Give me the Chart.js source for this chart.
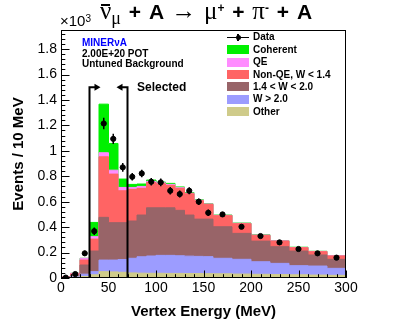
<!DOCTYPE html>
<html>
<head>
    <script src="https://cdn.jsdelivr.net/npm/chart.js"></script>
    <style>
        body {
            margin: 0;
            background: #fff;
            font-family: "Liberation Sans", Arial, sans-serif;
        }
        #wrap {
            position: relative;
            width: 407px;
            height: 328px;
        }
        canvas { position: absolute; left: 0; top: 0; }
        .txt {
            position: absolute;
            white-space: nowrap;
            font-weight: bold;
            font-size: 10px;
            line-height: 12px;
            color: #000;
        }
        #title {
            position: absolute;
            left: 100px;
            top: 0px;
            font-size: 21px;
            line-height: 22px;
            font-weight: bold;
            white-space: nowrap;
            word-spacing: 2px;
        }
        #title .g { font-family: "Liberation Serif", serif; font-weight: normal; font-size: 25px; }
        #title .nubar { position: relative; }
        #title .bar { position: absolute; left: 1px; right: 1px; top: 7px; height: 1.6px; background: #000; }
        #title .sub { font-family: "Liberation Serif", serif; font-weight: normal; font-size: 18px; position: relative; top: 5px; }
        #title .sup { font-size: 12px; position: relative; top: -7px; }
        #exp {
            position: absolute;
            left: 60px;
            top: 13px;
            font-size: 15px;
            line-height: 16px;
            white-space: nowrap;
        }
        #exp sup { font-size: 10px; position: relative; top: -2px; vertical-align: top; }
        .box { position: absolute; width: 22px; height: 9px; }
    </style>
</head>
<body>
<div id="wrap">
    <canvas id="chart" width="407" height="328"></canvas>
    <div id="title"><span class="g nubar">ν<span class="bar"></span></span><span class="sub">μ</span> + A <span class="g">→</span> <span class="g">μ</span><span class="sup">+</span> + <span class="g">π</span><span class="sup">-</span> + A</div>
    <div id="exp">×10<sup>3</sup></div>
    <div class="txt" style="left:82px; top:37px; color:#0000ff;">MINERνA</div>
    <div class="txt" style="left:82px; top:48px;">2.00E+20 POT</div>
    <div class="txt" style="left:82px; top:58px;">Untuned Background</div>
    <div class="txt" style="left:137px; top:80px; font-size:12px; line-height:14px;">Selected</div>
    <div id="legend"></div>
</div>
<script>
    // bin edges in MeV (10 MeV bins to 160, then 20 MeV bins)
    const binEdges = [0, 10, 20, 30, 40, 50, 60, 70, 80, 90, 100, 110, 120, 130, 140, 150, 160, 180, 200, 220, 240, 260, 280, 300];

    // predicted components, events / 10 MeV (x10^3)
    const other    = [0.003, 0.006, 0.012, 0.025, 0.050, 0.048, 0.045, 0.040, 0.038, 0.037, 0.037, 0.036, 0.036, 0.035, 0.035, 0.034, 0.033, 0.031, 0.029, 0.027, 0.025, 0.023, 0.021];
    const wHigh    = [0.001, 0.004, 0.018, 0.025, 0.091, 0.093, 0.100, 0.115, 0.129, 0.136, 0.141, 0.142, 0.139, 0.137, 0.135, 0.134, 0.122, 0.116, 0.099, 0.088, 0.072, 0.071, 0.055];
    const wMid     = [0.002, 0.012, 0.072, 0.162, 0.336, 0.294, 0.290, 0.293, 0.328, 0.379, 0.374, 0.374, 0.357, 0.323, 0.293, 0.295, 0.248, 0.204, 0.162, 0.131, 0.115, 0.087, 0.071];
    const nonQE    = [0.002, 0.010, 0.039, 0.094, 0.476, 0.382, 0.251, 0.249, 0.210, 0.199, 0.189, 0.176, 0.173, 0.167, 0.145, 0.116, 0.087, 0.076, 0.045, 0.044, 0.026, 0.026, 0.026];
    const qe       = [0.001, 0.005, 0.014, 0.019, 0.032, 0.031, 0.026, 0.015, 0.015, 0.009, 0.007, 0.008, 0.005, 0.005, 0.004, 0.003, 0.003, 0.003, 0.003, 0.002, 0.002, 0.002, 0.002];
    const coherent = [0.000, 0.000, 0.000, 0.112, 0.382, 0.210, 0.066, 0.024, 0.019, 0.010, 0.006, 0.008, 0.006, 0.005, 0.003, 0.002, 0.002, 0.002, 0.002, 0.002, 0.002, 0.001, 0.001];

    // data points
    const dataX   = [5, 15, 25, 35, 45, 55, 65, 75, 85, 95, 105, 115, 125, 135, 145, 155, 170, 190, 210, 230, 250, 270, 290];
    const dataY   = [0.003, 0.031, 0.194, 0.368, 1.215, 1.094, 0.870, 0.796, 0.822, 0.757, 0.752, 0.686, 0.660, 0.686, 0.600, 0.513, 0.500, 0.403, 0.330, 0.280, 0.228, 0.194, 0.160];
    const dataErr = [0.003, 0.008, 0.020, 0.030, 0.045, 0.040, 0.035, 0.030, 0.030, 0.030, 0.030, 0.030, 0.028, 0.028, 0.026, 0.026, 0.018, 0.016, 0.015, 0.013, 0.012, 0.011, 0.010];

    const xTickLabels = [0, 50, 100, 150, 200, 250, 300];
    const yTickLabels = [0, 0.2, 0.4, 0.6, 0.8, 1, 1.2, 1.4, 1.6, 1.8];

    // selection cut
    const selLow = 30, selHigh = 70, selTop = 1.5;

    const layers = [
        { label: 'Other',           values: other,    color: '#cfcb8a' },
        { label: 'W > 2.0',         values: wHigh,    color: '#9c9cff' },
        { label: '1.4 < W < 2.0',   values: wMid,     color: '#986468' },
        { label: 'Non-QE, W < 1.4', values: nonQE,    color: '#ff6464' },
        { label: 'QE',              values: qe,       color: '#ff8cff' },
        { label: 'Coherent',        values: coherent, color: '#00f000' }
    ];

    const nBins = binEdges.length - 1;
    let running = new Array(nBins).fill(0);
    const stackedSets = layers.map(l => {
        running = running.map((r, i) => r + l.values[i]);
        const pts = running.map((v, i) => ({ x: binEdges[i], y: v }));
        pts.push({ x: binEdges[nBins], y: running[nBins - 1] });
        return {
            label: l.label,
            data: pts,
            stepped: true,
            fill: 'origin',
            backgroundColor: l.color,
            borderColor: l.color,
            borderWidth: 1,
            pointRadius: 0
        };
    });

    const decor = {
        id: 'decor',
        afterDatasetsDraw(chart) {
            const { ctx, chartArea: a, scales: { x, y } } = chart;
            ctx.save();
            ctx.strokeStyle = '#000';
            ctx.fillStyle = '#000';

            // error bars
            ctx.lineWidth = 1.5;
            dataX.forEach((xv, i) => {
                const px = x.getPixelForValue(xv);
                ctx.beginPath();
                ctx.moveTo(px, y.getPixelForValue(dataY[i] - dataErr[i]));
                ctx.lineTo(px, y.getPixelForValue(dataY[i] + dataErr[i]));
                ctx.stroke();
            });

            // selection lines with arrows
            ctx.lineWidth = 2;
            const top = y.getPixelForValue(selTop);
            [[selLow, 1], [selHigh, -1]].forEach(([v, dir]) => {
                const px = x.getPixelForValue(v);
                ctx.beginPath();
                ctx.moveTo(px, a.bottom);
                ctx.lineTo(px, top);
                ctx.lineTo(px + dir * 6, top);
                ctx.stroke();
                ctx.beginPath();
                ctx.moveTo(px + dir * 11, top);
                ctx.lineTo(px + dir * 5, top - 3.5);
                ctx.lineTo(px + dir * 5, top + 3.5);
                ctx.closePath();
                ctx.fill();
            });

            // inside ticks
            ctx.lineWidth = 1;
            ctx.beginPath();
            for (let v = 0; v <= 300; v += 10) {
                const px = Math.round(x.getPixelForValue(v)) + 0.5;
                const len = v % 50 === 0 ? 7.5 : 3.8;
                ctx.moveTo(px, a.bottom);
                ctx.lineTo(px, a.bottom - len);
            }
            for (let k = 0; k * 0.04 <= y.max; k++) {
                const py = Math.round(y.getPixelForValue(k * 0.04)) + 0.5;
                const len = k % 5 === 0 ? 8.5 : 4.3;
                ctx.moveTo(a.left, py);
                ctx.lineTo(a.left + len, py);
            }
            ctx.stroke();

            // frame
            ctx.strokeRect(a.left + 0.5, a.top + 0.5, a.width - 1, a.height - 1);
            ctx.restore();
        }
    };

    Chart.defaults.font.family = '"Liberation Sans", Arial, sans-serif';
    Chart.defaults.color = '#000';

    new Chart(document.getElementById('chart').getContext('2d'), {
        type: 'line',
        data: {
            datasets: [
                {
                    label: 'Data',
                    data: dataX.map((v, i) => ({ x: v, y: dataY[i] })),
                    showLine: false,
                    pointRadius: 2.6,
                    pointBackgroundColor: '#000',
                    pointBorderColor: '#000',
                    borderColor: '#000',
                    order: -1
                },
                ...stackedSets
            ]
        },
        options: {
            responsive: false,
            animation: false,
            events: [],
            layout: { padding: { top: 30, right: 61, left: 0, bottom: 0 } },
            plugins: { legend: { display: false }, tooltip: { enabled: false } },
            scales: {
                x: {
                    type: 'linear',
                    min: 0,
                    max: 300,
                    afterFit: s => { s.height = 50; },
                    afterBuildTicks: s => { s.ticks = xTickLabels.map(v => ({ value: v })); },
                    grid: { display: false, drawTicks: false },
                    border: { display: false },
                    ticks: { padding: 2, maxRotation: 0, font: { size: 14 } },
                    title: {
                        display: true,
                        text: 'Vertex Energy (MeV)',
                        font: { size: 15, weight: 'bold' },
                        padding: { top: 0, bottom: 7 }
                    }
                },
                y: {
                    min: 0,
                    max: 1.95,
                    afterFit: s => { s.width = 61; },
                    afterBuildTicks: s => { s.ticks = yTickLabels.map(v => ({ value: v })); },
                    grid: { display: false, drawTicks: false },
                    border: { display: false },
                    ticks: { padding: 4, font: { size: 14 }, callback: v => String(+v.toFixed(1)) },
                    title: {
                        display: true,
                        text: 'Events / 10 MeV',
                        font: { size: 15, weight: 'bold' },
                        padding: { top: 10, bottom: 0 }
                    }
                }
            }
        },
        plugins: [decor]
    });

    // legend, top-right inside the frame
    const legend = document.getElementById('legend');
    const rowY = c => 37.3 + 12.4 * c;
    let html = '<div style="position:absolute;left:227px;top:' + (rowY(0) - 0.75) + 'px;width:22px;height:1.5px;background:#000"></div>' +
        '<div style="position:absolute;left:235.5px;top:' + (rowY(0) - 2.5) + 'px;width:5px;height:5px;border-radius:50%;background:#000"></div>' +
        '<div style="position:absolute;left:237.3px;top:' + (rowY(0) - 3.5) + 'px;width:1.5px;height:7px;background:#000"></div>' +
        '<div class="txt" style="left:253px;top:' + (rowY(0) - 6) + 'px">Data</div>';
    layers.slice().reverse().forEach((l, i) => {
        const c = rowY(i + 1);
        html += '<div class="box" style="left:227px;top:' + (c - 4.5) + 'px;background:' + l.color + '"></div>' +
            '<div class="txt" style="left:253px;top:' + (c - 6) + 'px">' + l.label.replace(/</g, '&lt;').replace(/>/g, '&gt;') + '</div>';
    });
    legend.innerHTML = html;
</script>
</body>
</html>
